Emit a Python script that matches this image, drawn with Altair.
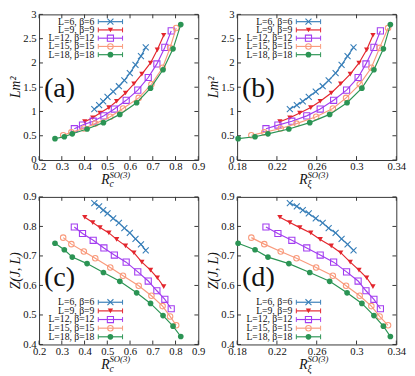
import altair as alt
import pandas as pd

labels = ["L=6, β=6", "L=9, β=9", "L=12, β=12", "L=15, β=15", "L=18, β=18"]
colors = ["#377eb8", "#e3262d", "#a23cf0", "#f99a7c", "#2b9454"]

# R_c^{SO(3)} per series
rc = [
    [0.443, 0.464, 0.482, 0.501, 0.526, 0.551, 0.575, 0.599, 0.624, 0.648, 0.669],
    [0.401, 0.436, 0.468, 0.507, 0.541, 0.580, 0.617, 0.652, 0.690, 0.720, 0.748],
    [0.355, 0.391, 0.438, 0.485, 0.531, 0.583, 0.634, 0.680, 0.718, 0.753, 0.781],
    [0.306, 0.342, 0.397, 0.447, 0.513, 0.569, 0.638, 0.694, 0.743, 0.776, 0.803],
    [0.270, 0.311, 0.346, 0.411, 0.483, 0.555, 0.629, 0.690, 0.745, 0.789, 0.823],
]
# R_xi^{SO(3)} per series
rxi = [
    [0.233, 0.240, 0.246, 0.252, 0.259, 0.266, 0.272, 0.279, 0.285, 0.291, 0.297],
    [0.223, 0.233, 0.243, 0.254, 0.2635, 0.2746, 0.2841, 0.2937, 0.3025, 0.3102, 0.3165],
    [0.209, 0.221, 0.235, 0.250, 0.2635, 0.277, 0.290, 0.3016, 0.3095, 0.3175, 0.324],
    [0.1943, 0.2073, 0.2238, 0.2397, 0.2594, 0.2762, 0.2895, 0.3032, 0.3149, 0.3232, 0.3317],
    [0.181, 0.198, 0.211, 0.232, 0.253, 0.273, 0.2905, 0.3054, 0.3175, 0.327, 0.334],
]
# L m^2 per series
lm2 = [
    [1.05, 1.13, 1.21, 1.30, 1.41, 1.52, 1.64, 1.79, 1.96, 2.14, 2.32],
    [0.79, 0.87, 0.97, 1.08, 1.21, 1.38, 1.57, 1.77, 2.00, 2.27, 2.57],
    [0.645, 0.72, 0.80, 0.91, 1.05, 1.23, 1.44, 1.70, 1.98, 2.32, 2.66],
    [0.51, 0.57, 0.65, 0.75, 0.89, 1.06, 1.28, 1.56, 1.90, 2.31, 2.72],
    [0.44, 0.48, 0.54, 0.64, 0.77, 0.94, 1.18, 1.48, 1.86, 2.29, 2.79],
]
# Z(J, L) per series
zjl = [
    [0.879, 0.868, 0.855, 0.844, 0.827, 0.812, 0.794, 0.778, 0.758, 0.739, 0.719],
    [0.831, 0.813, 0.796, 0.778, 0.756, 0.734, 0.711, 0.679, 0.652, 0.626, 0.596],
    [0.798, 0.776, 0.753, 0.727, 0.703, 0.679, 0.646, 0.615, 0.582, 0.553, 0.521],
    [0.762, 0.740, 0.715, 0.692, 0.661, 0.633, 0.599, 0.565, 0.530, 0.495, 0.465],
    [0.743, 0.721, 0.696, 0.674, 0.644, 0.614, 0.575, 0.539, 0.498, 0.462, 0.427],
]

rc_ticks = [0.2, 0.3, 0.4, 0.5, 0.6, 0.7, 0.8, 0.9]
rxi_ticks = [0.18, 0.22, 0.26, 0.30, 0.34]
lm2_ticks = [0, 0.5, 1, 1.5, 2, 2.5, 3]
z_ticks = [0.4, 0.5, 0.6, 0.7, 0.8, 0.9]

FONT = "Liberation Serif, Times New Roman, serif"
W = 164
TICK = 4


def marker(k):
    c = colors[k]
    if k == 0:
        return dict(shape="M-1,-1L1,1M1,-1L-1,1", filled=False, color=c, strokeWidth=1.1, size=38, opacity=1)
    if k == 1:
        return dict(shape="triangle-down", filled=True, color=c, size=30, opacity=1)
    if k == 2:
        return dict(shape="square", filled=False, color=c, strokeWidth=1.1, size=40, opacity=1)
    if k == 3:
        return dict(shape="circle", filled=False, color=c, strokeWidth=1.1, size=32, opacity=1)
    return dict(shape="circle", filled=True, color=c, size=34, opacity=1)


def one(v):
    return alt.Chart(pd.DataFrame({"t": [v]}))


def panel(xs, ys, xdom, xticks, xfmt, ydom, yticks, yfmt, ytitle, xsub, tag, H, leg_y0, leg_dy, tag_y):
    sx = alt.Scale(domain=xdom, nice=False, zero=False)
    sy = alt.Scale(domain=ydom, nice=False, zero=False)
    ax = alt.Axis(values=xticks, format=xfmt, ticks=False, domain=False, grid=False, title=None,
                  labelFont=FONT, labelFontSize=11, labelColor="#111", labelPadding=1,
                  labelFlush=False, labelOverlap=False)
    ay = alt.Axis(values=yticks, format=yfmt, ticks=False, domain=False, grid=False, title=None,
                  labelFont=FONT, labelFontSize=11, labelColor="#111", labelPadding=3,
                  labelFlush=False, labelOverlap=False)
    X = alt.X("x:Q", scale=sx, axis=ax)
    Y = alt.Y("y:Q", scale=sy, axis=ay)
    layers = []
    # tick marks (inward, on all four sides)
    xt = alt.Chart(pd.DataFrame({"x": xticks}))
    yt = alt.Chart(pd.DataFrame({"y": yticks}))
    tk = dict(color="#333", strokeWidth=1)
    layers.append(xt.mark_rule(**tk).encode(x=X, y=alt.value(H), y2=alt.value(H - TICK)))
    layers.append(xt.mark_rule(**tk).encode(x=X, y=alt.value(0), y2=alt.value(TICK)))
    layers.append(yt.mark_rule(**tk).encode(y=Y, x=alt.value(0), x2=alt.value(TICK)))
    layers.append(yt.mark_rule(**tk).encode(y=Y, x=alt.value(W), x2=alt.value(W - TICK)))
    # series
    for k in range(5):
        df = pd.DataFrame({"x": xs[k], "y": ys[k]})
        base = alt.Chart(df)
        layers.append(base.mark_line(color=colors[k], strokeWidth=1.2).encode(x=X, y=Y))
        layers.append(base.mark_point(**marker(k)).encode(x=X, y=Y))
    # legend
    for k in range(5):
        yy = leg_y0 + k * leg_dy
        c = colors[k]
        layers.append(one(labels[k]).mark_text(align="right", baseline="middle", font=FONT, fontSize=10,
                                               color="#111").encode(x=alt.value(57), y=alt.value(yy), text="t:N"))
        layers.append(one(k).mark_rule(color=c, strokeWidth=1.2).encode(x=alt.value(61), x2=alt.value(86), y=alt.value(yy)))
        layers.append(one(k).mark_rule(color=c, strokeWidth=1).encode(x=alt.value(61), y=alt.value(yy - 2.5), y2=alt.value(yy + 2.5)))
        layers.append(one(k).mark_rule(color=c, strokeWidth=1).encode(x=alt.value(86), y=alt.value(yy - 2.5), y2=alt.value(yy + 2.5)))
        layers.append(one(k).mark_point(**marker(k)).encode(x=alt.value(73.5), y=alt.value(yy)))
    # axis titles
    layers.append(one(ytitle).mark_text(angle=270, font=FONT, fontStyle="italic", fontSize=14, align="center",
                                        baseline="middle", color="#111").encode(x=alt.value(-24), y=alt.value(H / 2), text="t:N"))
    layers.append(one("R").mark_text(font=FONT, fontStyle="italic", fontSize=14, align="left",
                                     baseline="alphabetic", color="#111").encode(x=alt.value(64), y=alt.value(H + 25), text="t:N"))
    layers.append(one("SO(3)").mark_text(font=FONT, fontStyle="italic", fontSize=9, align="left",
                                         baseline="alphabetic", color="#111").encode(x=alt.value(72.5), y=alt.value(H + 18.5), text="t:N"))
    layers.append(one(xsub).mark_text(font=FONT, fontStyle="italic", fontSize=10, align="left",
                                      baseline="alphabetic", color="#111").encode(x=alt.value(72.5), y=alt.value(H + 28), text="t:N"))
    # panel tag
    layers.append(one(tag).mark_text(font=FONT, fontSize=29, align="left", baseline="alphabetic",
                                     color="#111").encode(x=alt.value(5), y=alt.value(tag_y), text="t:N"))
    return alt.layer(*layers).properties(width=W, height=H)


pa = panel(rc, lm2, [0.2, 0.9], rc_ticks, ".1f", [0, 3], lm2_ticks, "~g", "Lm²", "c", "(a)", 150, 7.5, 8.5, 85)
pb = panel(rxi, lm2, [0.18, 0.34], rxi_ticks, "~g", [0, 3], lm2_ticks, "~g", "Lm²", "ξ", "(b)", 150, 7.5, 8.5, 85)
pc = panel(rc, zjl, [0.2, 0.9], rc_ticks, ".1f", [0.4, 0.9], z_ticks, ".1f", "Z(J, L)", "c", "(c)", 152, 108.5, 8.9, 92)
pd_ = panel(rxi, zjl, [0.18, 0.34], rxi_ticks, "~g", [0.4, 0.9], z_ticks, ".1f", "Z(J, L)", "ξ", "(d)", 152, 108.5, 8.9, 92)

chart = alt.concat(pa, pb, pc, pd_, columns=2, spacing=0).properties(
    padding={"left": 0, "top": -6, "right": 0, "bottom": 0}
).configure_view(stroke="#333", strokeWidth=1)

chart.save("out.html", embed_options={"renderer": "svg", "actions": False})
